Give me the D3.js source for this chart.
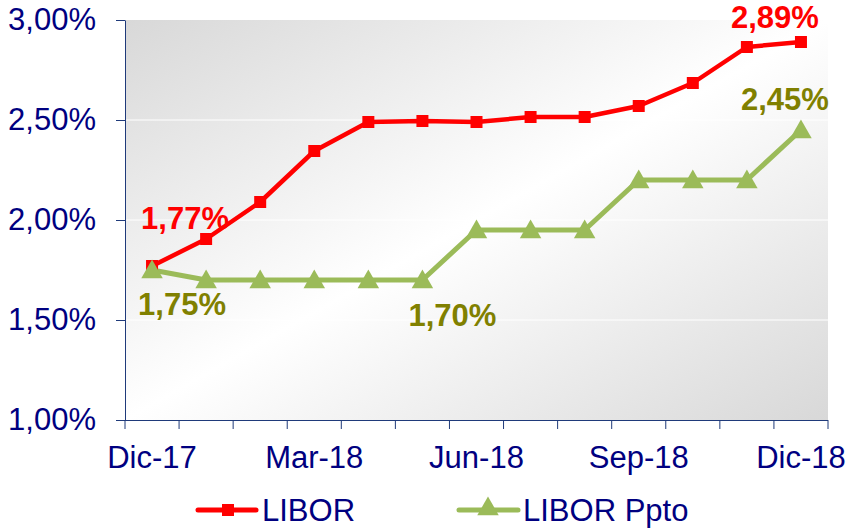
<!DOCTYPE html>
<html>
<head>
<style>
    body { margin: 0; background: #fff; }
    text { font-family: "Liberation Sans", Arial, sans-serif; }
</style>
<script src="https://d3js.org/d3.v7.min.js"></script>
</head>
<body>
<svg width="853" height="529"></svg>
<script>
    var months = ["Dic-17", "Ene-18", "Feb-18", "Mar-18", "Abr-18", "May-18", "Jun-18",
                  "Jul-18", "Ago-18", "Sep-18", "Oct-18", "Nov-18", "Dic-18"];
    var tickLabels = ["Dic-17", "Mar-18", "Jun-18", "Sep-18", "Dic-18"];
    var libor = [1.77, 1.905, 2.09, 2.345, 2.49, 2.495, 2.49, 2.515, 2.515, 2.57, 2.685, 2.865, 2.89];
    var liborPpto = [1.75, 1.70, 1.70, 1.70, 1.70, 1.70, 1.95, 1.95, 1.95, 2.20, 2.20, 2.20, 2.45];
    var yTicks = [1.0, 1.5, 2.0, 2.5, 3.0];

    var navy = "#000080";
    var svg = d3.select("svg");
    var pLeft = 125, pRight = 828, pTop = 20, pBottom = 420;
    var fs = 31;

    var x = d3.scaleBand().domain(months).range([pLeft, pRight]);
    var y = d3.scaleLinear().domain([1, 3]).range([pBottom, pTop]);

    // background gradient
    var defs = svg.append("defs");
    var grad = defs.append("linearGradient").attr("id", "bg")
        .attr("x1", "0%").attr("y1", "0%").attr("x2", "100%").attr("y2", "100%");
    grad.append("stop").attr("offset", "0%").attr("stop-color", "#d8d8d8");
    grad.append("stop").attr("offset", "50%").attr("stop-color", "#ffffff");
    grad.append("stop").attr("offset", "100%").attr("stop-color", "#d8d8d8");

    svg.append("rect")
        .attr("x", pLeft).attr("y", pTop)
        .attr("width", pRight - pLeft).attr("height", pBottom - pTop)
        .attr("fill", "url(#bg)");

    // gridlines
    svg.selectAll(".grid").data(yTicks.slice(1, -1)).enter().append("line")
        .attr("x1", pLeft).attr("x2", pRight)
        .attr("y1", d => y(d)).attr("y2", d => y(d))
        .attr("stroke", "#ffffff").attr("stroke-width", 1);

    var fmt = d => d3.format(".2f")(d).replace(".", ",") + "%";

    // y axis
    var yAxis = d3.axisLeft(y).tickValues(yTicks).tickFormat(fmt).tickSize(9).tickSizeOuter(0);
    var gy = svg.append("g").attr("transform", "translate(" + pLeft + ",0)").call(yAxis);
    gy.select(".domain").attr("stroke", "#1f3a7a");
    gy.selectAll(".tick line").attr("stroke", "#1f3a7a");
    gy.selectAll("text").attr("fill", navy).attr("font-size", fs)
        .attr("font-family", "Liberation Sans, Arial, sans-serif").attr("x", -29);

    // x axis: ticks at band edges
    var edges = months.map(m => x(m)).concat([pRight]);
    svg.append("line").attr("x1", pLeft).attr("x2", pRight)
        .attr("y1", pBottom + 0.5).attr("y2", pBottom + 0.5).attr("stroke", "#1f3a7a");
    svg.selectAll(".xt").data(edges).enter().append("line")
        .attr("x1", d => d).attr("x2", d => d)
        .attr("y1", pBottom).attr("y2", pBottom + 9)
        .attr("stroke", "#1f3a7a");
    svg.selectAll(".xl").data(tickLabels).enter().append("text")
        .attr("x", d => x(d) + x.bandwidth() / 2)
        .attr("y", pBottom + 48)
        .attr("text-anchor", "middle")
        .attr("font-size", fs).attr("fill", navy)
        .text(d => d);

    var cx = (d, i) => x(months[i]) + x.bandwidth() / 2;
    var line = d3.line().x(cx).y(d => y(d));

    var red = "#ff0000", green = "#9bbb59", olive = "#808000";

    // LIBOR Ppto
    svg.append("path").datum(liborPpto).attr("d", line)
        .attr("fill", "none").attr("stroke", green).attr("stroke-width", 5)
        .attr("stroke-linejoin", "round");

    // LIBOR
    svg.append("path").datum(libor).attr("d", line)
        .attr("fill", "none").attr("stroke", red).attr("stroke-width", 4.5)
        .attr("stroke-linejoin", "round");

    svg.selectAll(".sq").data(libor).enter().append("rect")
        .attr("x", (d, i) => cx(d, i) - 6).attr("y", d => y(d) - 6)
        .attr("width", 12).attr("height", 12).attr("fill", red);

    var tri = d3.symbol().type(d3.symbolTriangle).size(200);
    svg.selectAll(".tr").data(liborPpto).enter().append("path")
        .attr("d", tri)
        .attr("transform", (d, i) => "translate(" + cx(d, i) + "," + (y(d) + 2) + ")")
        .attr("fill", green);

    // data labels
    function label(val, i, dx, dy, color) {
        svg.append("text")
            .attr("x", cx(val, i) + dx).attr("y", y(val) + dy)
            .attr("text-anchor", "middle")
            .attr("font-size", fs).attr("font-weight", "bold")
            .attr("fill", color)
            .text(fmt(val));
    }
    label(libor[0], 0, 33, -37, red);
    label(libor[12], 12, -26, -14, red);
    label(liborPpto[0], 0, 30, 45, olive);
    label(liborPpto[5], 5, 30, 46, olive);
    label(liborPpto[12], 12, -16, -20, olive);

    // legend
    var ly = 510;
    var lg1 = svg.append("g");
    lg1.append("line").attr("x1", 198).attr("x2", 256).attr("y1", ly).attr("y2", ly)
        .attr("stroke", red).attr("stroke-width", 5).attr("stroke-linecap", "round");
    lg1.append("rect").attr("x", 222).attr("y", ly - 6).attr("width", 12).attr("height", 12).attr("fill", red);
    lg1.append("text").attr("x", 262).attr("y", ly + 11).attr("font-size", fs).attr("fill", navy).text("LIBOR");

    var lg2 = svg.append("g");
    lg2.append("line").attr("x1", 459).attr("x2", 518).attr("y1", ly).attr("y2", ly)
        .attr("stroke", green).attr("stroke-width", 5).attr("stroke-linecap", "round");
    lg2.append("path").attr("d", tri).attr("transform", "translate(488," + (ly - 1) + ")").attr("fill", green);
    lg2.append("text").attr("x", 523).attr("y", ly + 11).attr("font-size", fs).attr("fill", navy).text("LIBOR Ppto");
</script>
</body>
</html>
